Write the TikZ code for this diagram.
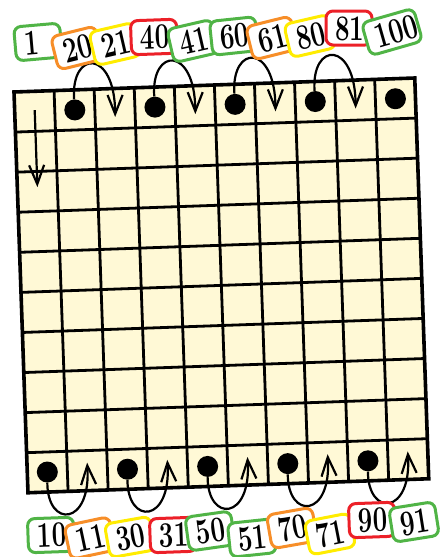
\documentclass[tikz,border=0pt]{standalone}
\usepackage{fontspec}
\usepackage{graphicx}
\usetikzlibrary{arrows.meta}
\setmainfont{Latin Modern Roman}
\definecolor{cream}{RGB}{255,249,214}
\definecolor{lgreen}{RGB}{80,180,70}
\definecolor{lorange}{RGB}{247,142,40}
\definecolor{lyellow}{RGB}{255,236,0}
\definecolor{lred}{RGB}{236,32,40}
\newcommand{\lbl}[1]{\scalebox{0.72}[1]{#1}}
\tikzset{
	cell/.style={line width=2.8pt},
	dot/.style={circle, fill=black, inner sep=0pt, minimum size=21pt},
	hop/.style={->, line width=2.2pt},
	tag/.style={draw=#1, line width=3pt, rounded corners=7pt, fill=white, align=left, inner xsep=9pt, inner ysep=5pt, text height=24pt, text depth=0pt, font=\fontsize{36}{36}\selectfont\bfseries}
}
\begin{document}
\begin{tikzpicture}[x=1pt, y=-1pt, >={Straight Barb[length=19pt, width=15pt]}]
	\useasboundingbox (0,0) rectangle (444,557);
	\begin{scope}[shift={(14,92)}, rotate=2, x=40.1pt, y=-40.1pt]
		\fill[cream] (0,0) rectangle (10,10);
		\foreach \k in {1,...,9} {
			\draw[cell] (\k,0) -- (\k,10);
			\draw[cell] (0,\k) -- (10,\k);
		}
		\draw[cell, line width=3.6pt] (0,0) rectangle (10,10);
		\coordinate (s) at (0.5,0.47);
		\coordinate (e) at (0.5,2.39);
		\draw[hop] (s) -- (e);
		\foreach \i in {1,3,5,7,9}
			\node[dot] (t\i) at (\i+0.5,0.5) {};
		\foreach \i [evaluate=\i as \j using int(\i+1)] in {1,3,5,7} {
			\coordinate (te\j) at (\j+0.5,0.71);
			\draw[hop] (t\i) .. controls (\i+0.45,-1.0) and (\i+1.55,-1.0) .. (te\j);
		}
		\foreach \i [evaluate=\i as \j using int(\i+1)] in {0,2,4,6,8} {
			\node[dot] (b\i) at (\i+0.5,9.5) {};
			\coordinate (be\j) at (\j+0.5,9.3);
			\draw[hop] (b\i) .. controls (\i+0.45,10.9) and (\i+1.55,10.9) .. (be\j);
		}
	\end{scope}
	\foreach \t/\c/\x/\y/\a/\w in {1/lgreen/38/42/5/28, 20/lorange/77/48/14/28, 21/lyellow/115/44/13/28, 40/lred/154/37/2/28, 41/lgreen/193/41/13/28, 60/lgreen/234/36/6/28, 61/lorange/272/38/14/28, 80/lyellow/310/36/13/28, 81/lred/349/28/0/28, 100/lgreen/392/32/16/36}
		\node[tag=\c, rotate=\a, text width=\w pt] (l\t) at (\x,\y) {\lbl{\t}};
	\foreach \t/\c/\x/\y/\a in {10/lgreen/51/535/2, 11/lorange/90/538/12, 30/lyellow/130/537/10, 31/lred/173/535/2, 50/lgreen/210/531/8, 51/lgreen/252/538/6, 70/lorange/292/528/10, 71/lyellow/330/534/11, 90/lred/372/520/2, 91/lgreen/414/522/9}
		\node[tag=\c, rotate=\a, text width=28pt] (l\t) at (\x,\y) {\lbl{\t}};
\end{tikzpicture}
\end{document}
